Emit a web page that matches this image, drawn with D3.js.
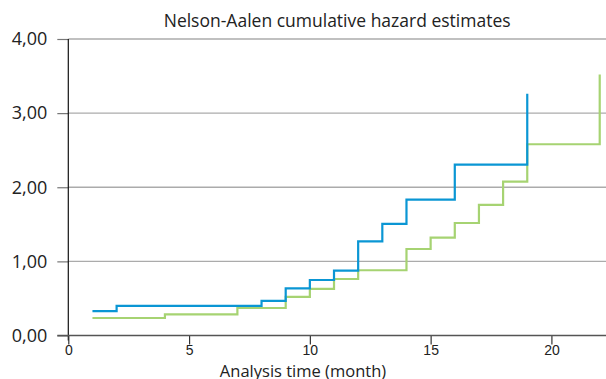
<!DOCTYPE html>
<html>
<head>
<meta charset="utf-8">
<script src="https://cdn.jsdelivr.net/npm/d3@7"></script>
<style>
  html, body { margin: 0; padding: 0; background: #fff; }
  svg { display: block; font-family: "Open Sans", "Noto Sans", sans-serif; }
</style>
</head>
<body>
<svg id="chart" width="606" height="379"></svg>
<script>
// Nelson-Aalen step estimates: event times (months) and cumulative hazard after each step
const groupATimes  = [1, 2, 8, 9, 10, 11, 12, 13, 14, 16, 19];
const groupAHazard = [0.33, 0.40, 0.466, 0.637, 0.749, 0.875, 1.27, 1.505, 1.833, 2.305, 3.263];
const groupBTimes  = [1, 4, 7, 9, 10, 11, 12, 14, 15, 16, 17, 18, 19, 22];
const groupBHazard = [0.236, 0.286, 0.371, 0.52, 0.628, 0.762, 0.88, 1.167, 1.32, 1.518, 1.761, 2.076, 2.58, 3.52];
const xTicks = [0, 5, 10, 15, 20];
const yTicks = [0, 1, 2, 3, 4];

const svg = d3.select("#chart");
const margin = { left: 68.3, right: 0, top: 39, bottom: 43.5 };
const W = 606, H = 379;

const x = d3.scaleLinear().domain([0, 22.26]).range([margin.left, W - margin.right]);
const y = d3.scaleLinear().domain([0, 4]).range([H - margin.bottom, margin.top]);

const fmt = v => d3.format(".2f")(v).replace(".", ",");

// horizontal grid
svg.append("g")
  .selectAll("line")
  .data(yTicks.filter(d => d > 0))
  .join("line")
  .attr("x1", x(0)).attr("x2", W)
  .attr("y1", d => y(d)).attr("y2", d => y(d))
  .attr("stroke", "#ababab").attr("stroke-width", 1.3);

// y axis
const yAxis = svg.append("g")
  .attr("transform", `translate(${x(0)},0)`)
  .call(d3.axisLeft(y).tickValues(yTicks).tickFormat(fmt).tickSize(11).tickPadding(10));
yAxis.select(".domain").remove();
yAxis.selectAll(".tick line").attr("stroke", "#777").attr("stroke-width", 1.2);
yAxis.selectAll(".tick text")
  .attr("font-size", 18).attr("fill", "#222")
  .attr("font-family", "'Open Sans', sans-serif");
svg.append("line")
  .attr("x1", x(0)).attr("x2", x(0))
  .attr("y1", y(4)).attr("y2", y(0) + 5)
  .attr("stroke", "#111").attr("stroke-width", 1.2);

// x axis
const xAxis = svg.append("g")
  .attr("transform", `translate(0,${y(0)})`)
  .call(d3.axisBottom(x).tickValues(xTicks).tickFormat(d3.format("d")).tickSize(9).tickPadding(1));
xAxis.select(".domain").remove();
xAxis.selectAll(".tick line").attr("stroke", "#333").attr("stroke-width", 1.2);
xAxis.selectAll(".tick text")
  .attr("font-size", 14).attr("fill", "#222");
svg.append("line")
  .attr("x1", x(0) - 11).attr("x2", W)
  .attr("y1", y(0)).attr("y2", y(0))
  .attr("stroke", "#555").attr("stroke-width", 1.3);

// step curves
const stepLine = d3.line().x(d => x(d[0])).y(d => y(d[1])).curve(d3.curveStepAfter);
function drawSteps(times, values, color) {
  const pts = times.map((t, i) => [t, values[i]]);
  svg.append("path")
    .datum(pts)
    .attr("d", stepLine)
    .attr("fill", "none")
    .attr("stroke", color)
    .attr("stroke-width", 2.2);
}
drawSteps(groupBTimes, groupBHazard, "#a6d372");
drawSteps(groupATimes, groupAHazard, "#0a96d4");

// titles
svg.append("text")
  .attr("x", (x(0) + W) / 2).attr("y", 27)
  .attr("text-anchor", "middle")
  .attr("font-size", 17.5).attr("fill", "#222")
  .text("Nelson-Aalen cumulative hazard estimates");
svg.append("text")
  .attr("x", 303).attr("y", 377)
  .attr("text-anchor", "middle")
  .attr("font-size", 16.5).attr("fill", "#222")
  .text("Analysis time (month)");
</script>
</body>
</html>
